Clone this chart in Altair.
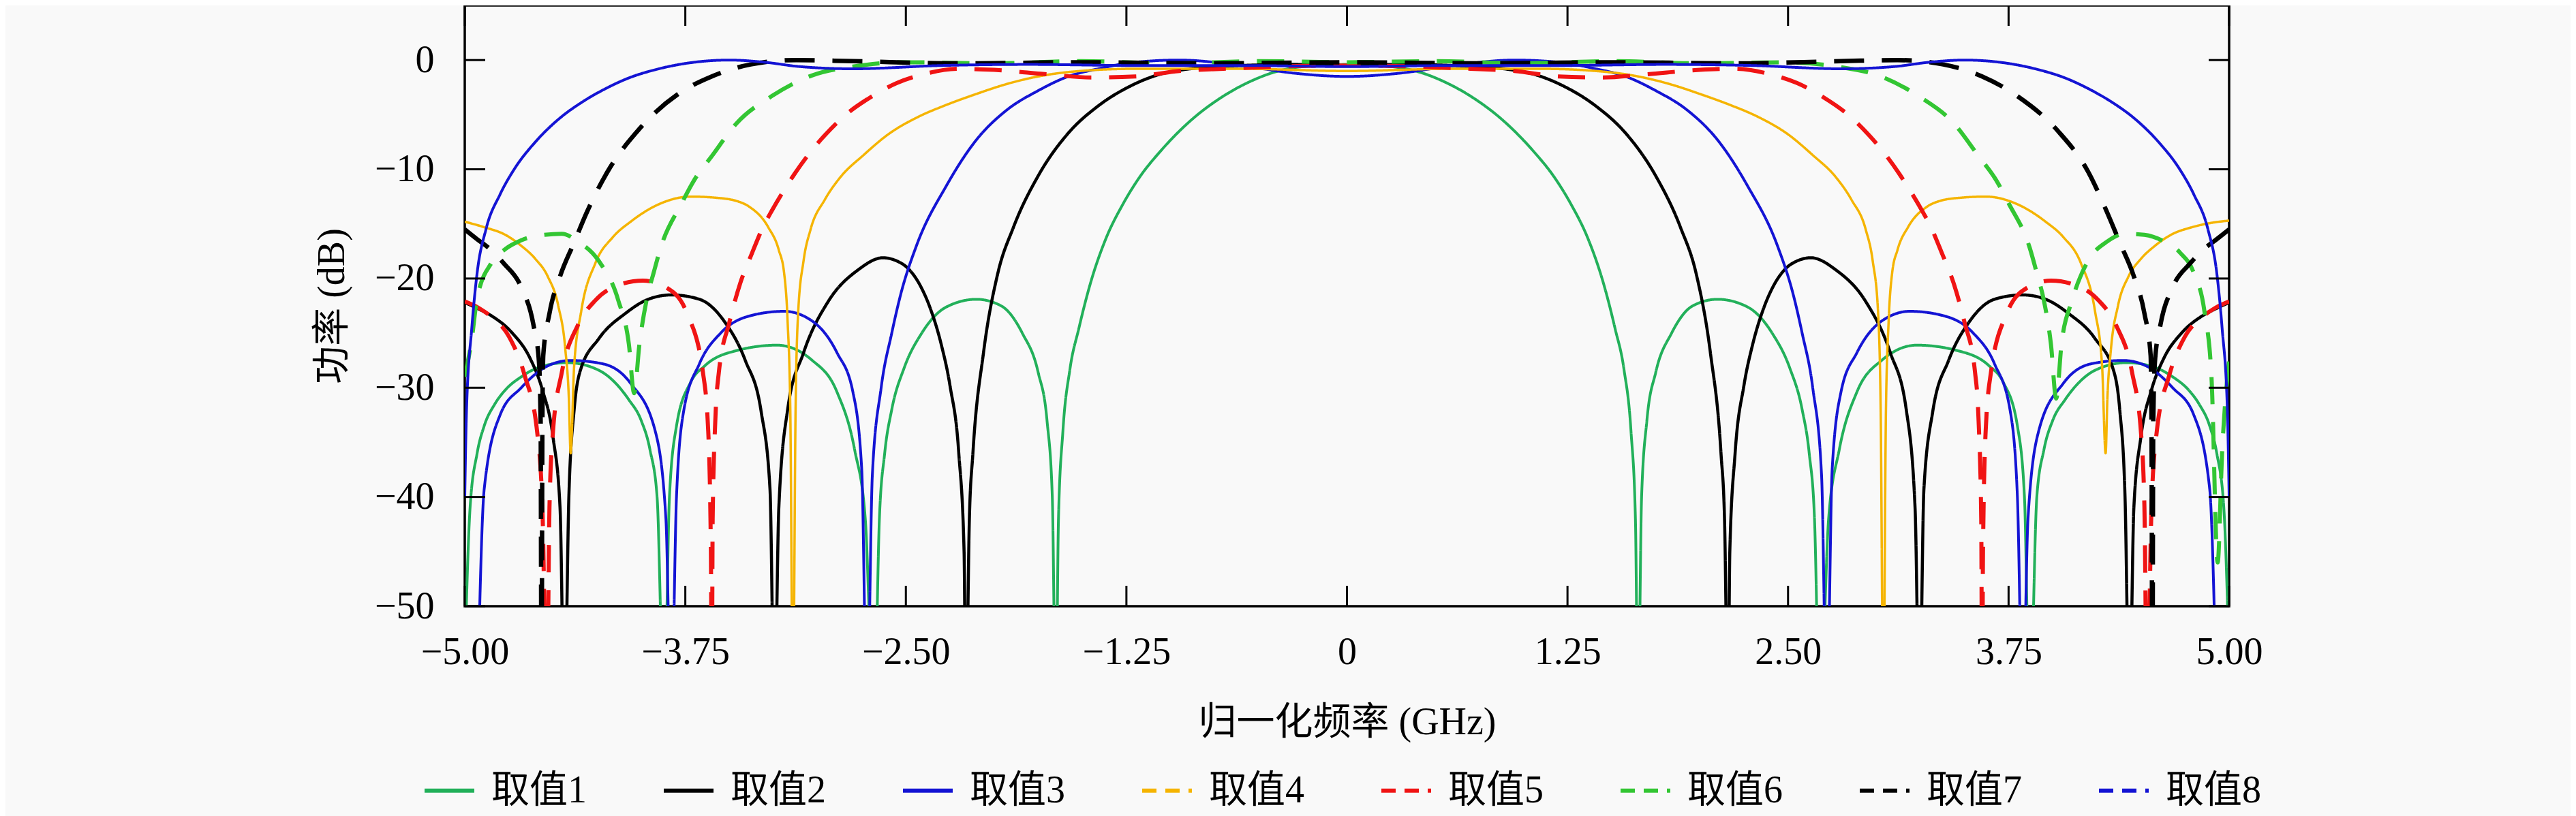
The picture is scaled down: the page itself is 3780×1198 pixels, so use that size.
import altair as alt
import pandas as pd

NAMES = ["取值1", "取值2", "取值3", "取值4", "取值5", "取值6", "取值7", "取值8"]
COLORS = ["#22B05A", "#000000", "#1414D4", "#F5B400", "#F01414", "#33C633", "#000000", "#1414D4"]
DASHES = [[1, 0], [1, 0], [1, 0], [1, 0], [40, 26], [40, 26], [44, 26], [1, 0]]
WIDTHS = [4, 4.5, 4, 3.5, 6, 6, 6.5, 4]

X_TICKS = [-5.0, -3.75, -2.5, -1.25, 0.0, 1.25, 2.5, 3.75, 5.0]
Y_TICKS = [0, -10, -20, -30, -40, -50]

# (frequency GHz, power dB)
S1 = [(-5.00, -55), (-4.97, -41), (-4.93, -36), (-4.89, -33.5), (-4.83, -31.5), (-4.77, -30.2), (-4.68, -29),
      (-4.59, -28.2), (-4.42, -27.7), (-4.24, -28.4), (-4.15, -29.5), (-4.07, -31.1), (-4.00, -33), (-3.95, -35.7),
      (-3.91, -40), (-3.87, -60), (-3.84, -40), (-3.80, -33.5), (-3.72, -29.5), (-3.64, -28), (-3.46, -26.6),
      (-3.23, -26.1), (-3.03, -27.5), (-2.89, -30.4), (-2.79, -35.7), (-2.73, -42), (-2.68, -60), (-2.65, -42),
      (-2.62, -36), (-2.58, -32), (-2.51, -28.2), (-2.41, -25), (-2.27, -22.6), (-2.10, -21.9), (-1.96, -22.5),
      (-1.84, -25), (-1.75, -28.6), (-1.70, -33), (-1.67, -40), (-1.65, -60), (-1.635, -42), (-1.61, -34),
      (-1.57, -28.3), (-1.52, -24.6), (-1.455, -20.5), (-1.365, -16.3), (-1.27, -13.2), (-1.17, -10.6),
      (-1.06, -8.4), (-0.89, -5.6), (-0.71, -3.4), (-0.54, -1.9), (-0.43, -1.2), (-0.25, -0.6), (0.00, -0.4),
      (0.25, -0.6), (0.43, -1.2), (0.54, -1.9), (0.71, -3.4), (0.89, -5.6), (1.06, -8.4), (1.17, -10.6),
      (1.27, -13.2), (1.365, -16.3), (1.455, -20.5), (1.52, -24.6), (1.57, -28.3), (1.61, -34), (1.635, -42),
      (1.65, -60), (1.67, -40), (1.70, -33), (1.75, -28.6), (1.84, -25), (1.96, -22.5), (2.10, -21.9),
      (2.27, -22.6), (2.41, -25), (2.51, -28.2), (2.58, -32), (2.62, -36), (2.65, -42), (2.68, -60), (2.73, -42),
      (2.79, -35.7), (2.89, -30.4), (3.03, -27.5), (3.23, -26.1), (3.46, -26.6), (3.64, -28), (3.72, -29.5),
      (3.80, -33.5), (3.84, -40), (3.87, -60), (3.91, -40), (3.95, -35.7), (4.00, -33), (4.07, -31.1),
      (4.15, -29.5), (4.24, -28.4), (4.42, -27.7), (4.59, -28.2), (4.68, -29), (4.77, -30.2), (4.83, -31.5),
      (4.89, -33.5), (4.93, -36), (4.97, -41), (5.00, -55)]

S2 = [(-5.00, -22.2), (-4.92, -22.8), (-4.85, -23.4), (-4.73, -25), (-4.63, -27.3), (-4.56, -30.2), (-4.50, -34.5),
      (-4.46, -41), (-4.435, -60), (-4.41, -40), (-4.38, -32), (-4.35, -28.7), (-4.24, -25.5), (-4.09, -23.2),
      (-3.96, -21.9), (-3.83, -21.5), (-3.67, -21.9), (-3.53, -23.9), (-3.41, -27.5), (-3.32, -32.2),
      (-3.27, -39.3), (-3.245, -60), (-3.22, -41), (-3.17, -32), (-3.08, -26.8), (-2.94, -22.1), (-2.77, -19.2),
      (-2.63, -18.1), (-2.55, -18.4), (-2.48, -19.2), (-2.42, -20.6), (-2.36, -22.8), (-2.30, -26), (-2.25, -29.8),
      (-2.20, -36), (-2.17, -45), (-2.16, -60), (-2.14, -42), (-2.12, -36), (-2.06, -26.8), (-1.98, -19.6),
      (-1.89, -15.3), (-1.75, -10.6), (-1.58, -6.7), (-1.41, -4.2), (-1.23, -2.4), (-1.06, -1.3), (-0.89, -0.8),
      (-0.60, -0.5), (-0.30, -0.4), (0.00, -0.5), (0.30, -0.4), (0.60, -0.5), (0.89, -0.8), (1.06, -1.3),
      (1.23, -2.4), (1.41, -4.2), (1.58, -6.7), (1.75, -10.6), (1.89, -15.3), (1.98, -19.6), (2.06, -26.8),
      (2.12, -36), (2.14, -42), (2.16, -60), (2.17, -45), (2.20, -36), (2.25, -29.8), (2.30, -26), (2.36, -22.8),
      (2.42, -20.6), (2.48, -19.2), (2.55, -18.4), (2.63, -18.1), (2.77, -19.2), (2.94, -22.1), (3.08, -26.8),
      (3.17, -32), (3.22, -41), (3.245, -60), (3.27, -39.3), (3.32, -32.2), (3.41, -27.5), (3.53, -23.9),
      (3.67, -21.9), (3.83, -21.5), (3.96, -21.9), (4.09, -23.2), (4.24, -25.5), (4.35, -28.7), (4.38, -32),
      (4.41, -40), (4.435, -60), (4.46, -41), (4.50, -34.5), (4.56, -30.2), (4.63, -27.3), (4.73, -25),
      (4.85, -23.4), (4.92, -22.8), (5.00, -22.2)]

S3 = [(-4.93, -60), (-4.89, -39.3), (-4.80, -32.5), (-4.68, -30), (-4.53, -28), (-4.40, -27.5), (-4.22, -27.8),
      (-4.06, -29.6), (-3.92, -34), (-3.86, -42), (-3.83, -60), (-3.80, -40), (-3.76, -32.2), (-3.67, -27.8),
      (-3.55, -25), (-3.38, -23.4), (-3.19, -23), (-3.03, -23.9), (-2.89, -26.8), (-2.80, -30.4), (-2.75, -37.5),
      (-2.72, -60), (-2.69, -38), (-2.64, -30), (-2.58, -25), (-2.53, -21.5), (-2.44, -17), (-2.27, -11.5),
      (-2.10, -7.3), (-1.93, -4.6), (-1.75, -2.8), (-1.58, -1.5), (-1.41, -0.8), (-1.20, -0.2), (-0.95, 0.0),
      (-0.60, -0.5), (-0.30, -1.2), (0.00, -1.5), (0.30, -1.2), (0.60, -0.5), (0.95, 0.0), (1.20, -0.2),
      (1.41, -0.8), (1.58, -1.5), (1.75, -2.8), (1.93, -4.6), (2.10, -7.3), (2.27, -11.5), (2.44, -17),
      (2.53, -21.5), (2.58, -25), (2.64, -30), (2.69, -38), (2.72, -60), (2.75, -37.5), (2.80, -30.4),
      (2.89, -26.8), (3.03, -23.9), (3.19, -23), (3.38, -23.4), (3.55, -25), (3.67, -27.8), (3.76, -32.2),
      (3.80, -40), (3.83, -60), (3.86, -42), (3.92, -34), (4.06, -29.6), (4.22, -27.8), (4.40, -27.5),
      (4.53, -28), (4.68, -30), (4.80, -32.5), (4.89, -39.3), (4.93, -60)]

S4 = [(-5.00, -14.8), (-4.89, -15.3), (-4.77, -16), (-4.68, -17), (-4.60, -18.2), (-4.53, -19.8), (-4.47, -22.5),
      (-4.43, -26.5), (-4.41, -31), (-4.40, -36), (-4.38, -28), (-4.34, -23), (-4.26, -18.6), (-4.16, -16.2),
      (-4.06, -14.8), (-3.90, -13.2), (-3.72, -12.5), (-3.58, -12.6), (-3.46, -12.9), (-3.39, -13.4),
      (-3.28, -15.3), (-3.22, -17.4), (-3.19, -19.5), (-3.17, -24), (-3.155, -32), (-3.14, -60), (-3.125, -32),
      (-3.11, -23), (-3.08, -18.4), (-3.04, -15.5), (-2.96, -12.8), (-2.87, -10.7), (-2.74, -8.7), (-2.60, -6.8),
      (-2.43, -5.2), (-2.27, -4.1), (-2.10, -3.1), (-1.93, -2.2), (-1.75, -1.5), (-1.58, -1.1), (-1.20, -0.8),
      (-0.60, -0.8), (0.00, -1.0), (0.60, -0.8), (1.10, -0.8), (1.48, -1.1), (1.65, -1.5), (1.83, -2.2),
      (2.00, -3.1), (2.17, -4.1), (2.33, -5.2), (2.50, -6.8), (2.64, -8.7), (2.77, -10.7), (2.86, -12.8),
      (2.94, -15.5), (2.98, -18.4), (3.01, -23), (3.025, -32), (3.04, -60), (3.055, -32), (3.07, -24),
      (3.09, -19.5), (3.12, -17.4), (3.18, -15.3), (3.29, -13.4), (3.36, -12.9), (3.48, -12.6), (3.62, -12.5),
      (3.80, -13.2), (3.96, -14.8), (4.06, -16.2), (4.16, -18.6), (4.24, -23), (4.28, -28), (4.30, -36),
      (4.31, -31), (4.33, -26.5), (4.37, -22.5), (4.43, -19.8), (4.50, -18.2), (4.58, -17), (4.67, -16),
      (4.79, -15.3), (4.90, -14.9), (5.00, -14.7)]

S5 = [(-5.00, -22.1), (-4.92, -22.7), (-4.85, -23.5), (-4.75, -25.3), (-4.66, -28.9), (-4.59, -34), (-4.56, -41),
      (-4.535, -60), (-4.52, -41), (-4.50, -34), (-4.45, -28.6), (-4.36, -24.3), (-4.26, -22), (-4.11, -20.5),
      (-3.99, -20.2), (-3.85, -20.9), (-3.74, -23.2), (-3.65, -28.6), (-3.62, -34), (-3.605, -45), (-3.60, -60),
      (-3.595, -42), (-3.58, -33), (-3.56, -28.6), (-3.50, -24), (-3.44, -20.5), (-3.37, -17.6), (-3.31, -15.3),
      (-3.26, -13.8), (-3.19, -11.9), (-3.13, -10.4), (-3.03, -8.2), (-2.96, -6.9), (-2.84, -5.0), (-2.70, -3.4),
      (-2.55, -2.1), (-2.40, -1.3), (-2.20, -0.8), (-2.00, -0.9), (-1.70, -1.3), (-1.45, -1.6), (-1.20, -1.5),
      (-0.95, -1.0), (-0.70, -0.8), (-0.40, -0.6), (0.00, -0.5), (0.40, -0.6), (0.70, -0.8), (0.95, -1.0),
      (1.20, -1.5), (1.45, -1.6), (1.70, -1.3), (2.00, -0.9), (2.20, -0.8), (2.40, -1.3), (2.55, -2.1),
      (2.70, -3.4), (2.84, -5.0), (2.96, -6.9), (3.03, -8.2), (3.13, -10.4), (3.19, -11.9), (3.26, -13.8),
      (3.31, -15.3), (3.37, -17.6), (3.44, -20.5), (3.50, -24), (3.56, -28.6), (3.58, -33), (3.595, -42),
      (3.60, -60), (3.605, -45), (3.62, -34), (3.65, -28.6), (3.74, -23.2), (3.85, -20.9), (3.99, -20.2),
      (4.11, -20.5), (4.26, -22), (4.36, -24.3), (4.45, -28.6), (4.50, -34), (4.52, -41), (4.535, -60),
      (4.56, -41), (4.59, -34), (4.66, -28.9), (4.75, -25.3), (4.85, -23.5), (4.92, -22.7), (5.00, -22.1)]

S6 = [(-5.00, -29), (-4.96, -25.5), (-4.93, -21.8), (-4.85, -18.6), (-4.77, -17.3), (-4.68, -16.5), (-4.55, -16.0),
      (-4.45, -15.9), (-4.36, -16.6), (-4.24, -18.4), (-4.13, -22), (-4.07, -26), (-4.04, -30.5), (-4.01, -26),
      (-3.97, -22), (-3.93, -19.5), (-3.89, -17.2), (-3.77, -13.1), (-3.70, -11), (-3.60, -8.8), (-3.46, -5.8),
      (-3.26, -3.3), (-3.03, -1.4), (-2.80, -0.6), (-2.50, -0.2), (-2.00, -0.3), (-1.50, -0.1), (-1.00, -0.3),
      (-0.50, -0.1), (0.00, -0.2), (0.50, -0.1), (1.00, -0.3), (1.50, -0.1), (2.00, -0.3), (2.48, -0.2),
      (2.78, -0.6), (3.01, -1.4), (3.24, -3.3), (3.44, -5.8), (3.58, -8.8), (3.68, -11), (3.75, -13.1),
      (3.87, -17.2), (3.91, -19.5), (3.95, -22), (3.99, -26), (4.02, -31), (4.05, -26), (4.11, -22),
      (4.20, -18.4), (4.31, -16.6), (4.41, -15.9), (4.52, -16.0), (4.63, -16.6), (4.72, -17.6), (4.80, -19.5),
      (4.86, -23), (4.90, -29), (4.935, -46), (4.96, -36), (5.00, -27.5)]

S7 = [(-5.00, -15.5), (-4.93, -16.4), (-4.85, -17.4), (-4.78, -18.6), (-4.68, -20.8), (-4.61, -24.3), (-4.58, -27.5),
      (-4.57, -33), (-4.565, -60), (-4.56, -33), (-4.555, -27), (-4.52, -23.2), (-4.46, -19.8), (-4.38, -16.7),
      (-4.31, -14.0), (-4.19, -10.2), (-4.01, -6.3), (-3.79, -3.1), (-3.60, -1.5), (-3.38, -0.4), (-3.12, 0.0),
      (-2.80, -0.1), (-2.20, -0.3), (-1.50, -0.2), (-0.80, -0.3), (0.00, -0.2), (0.80, -0.3), (1.50, -0.2),
      (2.20, -0.3), (2.80, -0.1), (3.12, 0.0), (3.38, -0.4), (3.60, -1.5), (3.80, -3.3), (4.03, -6.5),
      (4.20, -10.2), (4.31, -14.0), (4.38, -16.7), (4.46, -19.8), (4.52, -23.2), (4.555, -27), (4.56, -33),
      (4.565, -60), (4.57, -33), (4.58, -27.5), (4.61, -24.3), (4.68, -20.8), (4.78, -18.6), (4.85, -17.4),
      (4.93, -16.4), (5.00, -15.5)]

S8 = [(-5.00, -40), (-4.99, -32), (-4.96, -24.5), (-4.93, -19.5), (-4.88, -15.5), (-4.80, -12.3), (-4.72, -10),
      (-4.60, -7.5), (-4.46, -5.3), (-4.34, -3.9), (-4.20, -2.6), (-4.08, -1.7), (-3.90, -0.8), (-3.70, -0.2),
      (-3.50, 0.0), (-3.30, -0.2), (-3.10, -0.6), (-2.80, -0.8), (-2.30, -0.5), (-1.80, -0.4), (-1.20, -0.5),
      (-0.60, -0.5), (0.00, -0.6), (0.60, -0.5), (1.20, -0.5), (1.80, -0.4), (2.30, -0.5), (2.80, -0.8),
      (3.10, -0.6), (3.30, -0.2), (3.50, 0.0), (3.70, -0.2), (3.90, -0.8), (4.08, -1.7), (4.20, -2.6),
      (4.34, -3.9), (4.46, -5.3), (4.60, -7.5), (4.72, -10), (4.80, -12.3), (4.88, -15.5), (4.93, -19.5),
      (4.96, -24.5), (4.99, -32), (5.00, -40)]

SERIES = [S1, S2, S3, S4, S5, S6, S7, S8]

rows = []
for i, (name, pts) in enumerate(zip(NAMES, SERIES)):
    for (fx, db) in pts:
        rows.append({"series": name, "x": fx, "y": db, "sw": WIDTHS[i], "dash": DASHES[i]})
df = pd.DataFrame(rows)

W, H = 2589, 882
FONT_NUM = "Liberation Serif"
FONT_TXT = "Liberation Serif, Noto Sans CJK SC"

xscale = alt.Scale(domain=[-5, 5], nice=False, zero=False)
yscale = alt.Scale(domain=[-50, 5], nice=False, zero=False)

legend_dash = "indexof(['取值1', '取值2', '取值3'], datum.value) >= 0 ? [1, 0] : [21, 13]"

lines = alt.Chart(df).mark_line(clip=True, interpolate="monotone").encode(
    x=alt.X("x:Q", scale=xscale, title="归一化频率 (GHz)",
            axis=alt.Axis(values=X_TICKS, ticks=False, tickSize=0, domain=False, grid=False,
                          labelExpr="datum.value == 0 ? '0' : format(datum.value, '.2f')",
                          labelFont=FONT_NUM, labelFontSize=56, labelColor="black", labelPadding=40,
                          labelFlush=False, labelOverlap=False,
                          titleFont=FONT_TXT, titleFontSize=56, titleFontWeight="normal", titleColor="black",
                          titleX=W / 2, titleY=170, titleBaseline="middle")),
    y=alt.Y("y:Q", scale=yscale, title="功率 (dB)",
            axis=alt.Axis(values=Y_TICKS, ticks=False, tickSize=0, domain=False, grid=False,
                          labelFont=FONT_NUM, labelFontSize=56, labelColor="black", labelPadding=45,
                          labelFlush=False,
                          titleFont=FONT_TXT, titleFontSize=56, titleFontWeight="normal", titleColor="black",
                          titleX=-195, titleY=H / 2, titleBaseline="middle", titleAlign="center", titleAngle=270)),
    color=alt.Color("series:N", scale=alt.Scale(domain=NAMES, range=COLORS),
                    legend=alt.Legend(title=None, orient="none", direction="horizontal", columns=8,
                                      legendX=-62, legendY=1113, columnPadding=101, labelOffset=22,
                                      labelFont=FONT_TXT, labelFontSize=56, labelColor="black", labelLimit=400,
                                      symbolType="stroke", symbolSize=5329, symbolStrokeWidth=6,
                                      symbolDash={"expr": legend_dash})),
    strokeDash=alt.StrokeDash("dash:N", scale=None, legend=None),
    strokeWidth=alt.StrokeWidth("sw:Q", scale=None, legend=None),
    order=alt.Order("x:Q"),
    detail="series:N",
)

xt = pd.DataFrame({"x": X_TICKS})
yt = pd.DataFrame({"y": Y_TICKS})
tick_style = dict(color="black", strokeWidth=3)
xb = alt.Chart(xt).mark_rule(**tick_style).encode(x=alt.X("x:Q", scale=xscale), y=alt.value(H), y2=alt.value(H - 30))
xtp = alt.Chart(xt).mark_rule(**tick_style).encode(x=alt.X("x:Q", scale=xscale), y=alt.value(0), y2=alt.value(30))
yl = alt.Chart(yt).mark_rule(**tick_style).encode(y=alt.Y("y:Q", scale=yscale), x=alt.value(0), x2=alt.value(30))
yr = alt.Chart(yt).mark_rule(**tick_style).encode(y=alt.Y("y:Q", scale=yscale), x=alt.value(W - 30), x2=alt.value(W))

chart = alt.layer(lines, xb, xtp, yl, yr).properties(
    width=W, height=H,
    autosize=alt.AutoSizeParams(type="none"),
    padding={"left": 674, "top": 0, "right": 501, "bottom": 308},
    background="#F9F9F9",
).configure_view(stroke="black", strokeWidth=3.5)

chart.save("out.html", embed_options={"renderer": "svg", "actions": False})
